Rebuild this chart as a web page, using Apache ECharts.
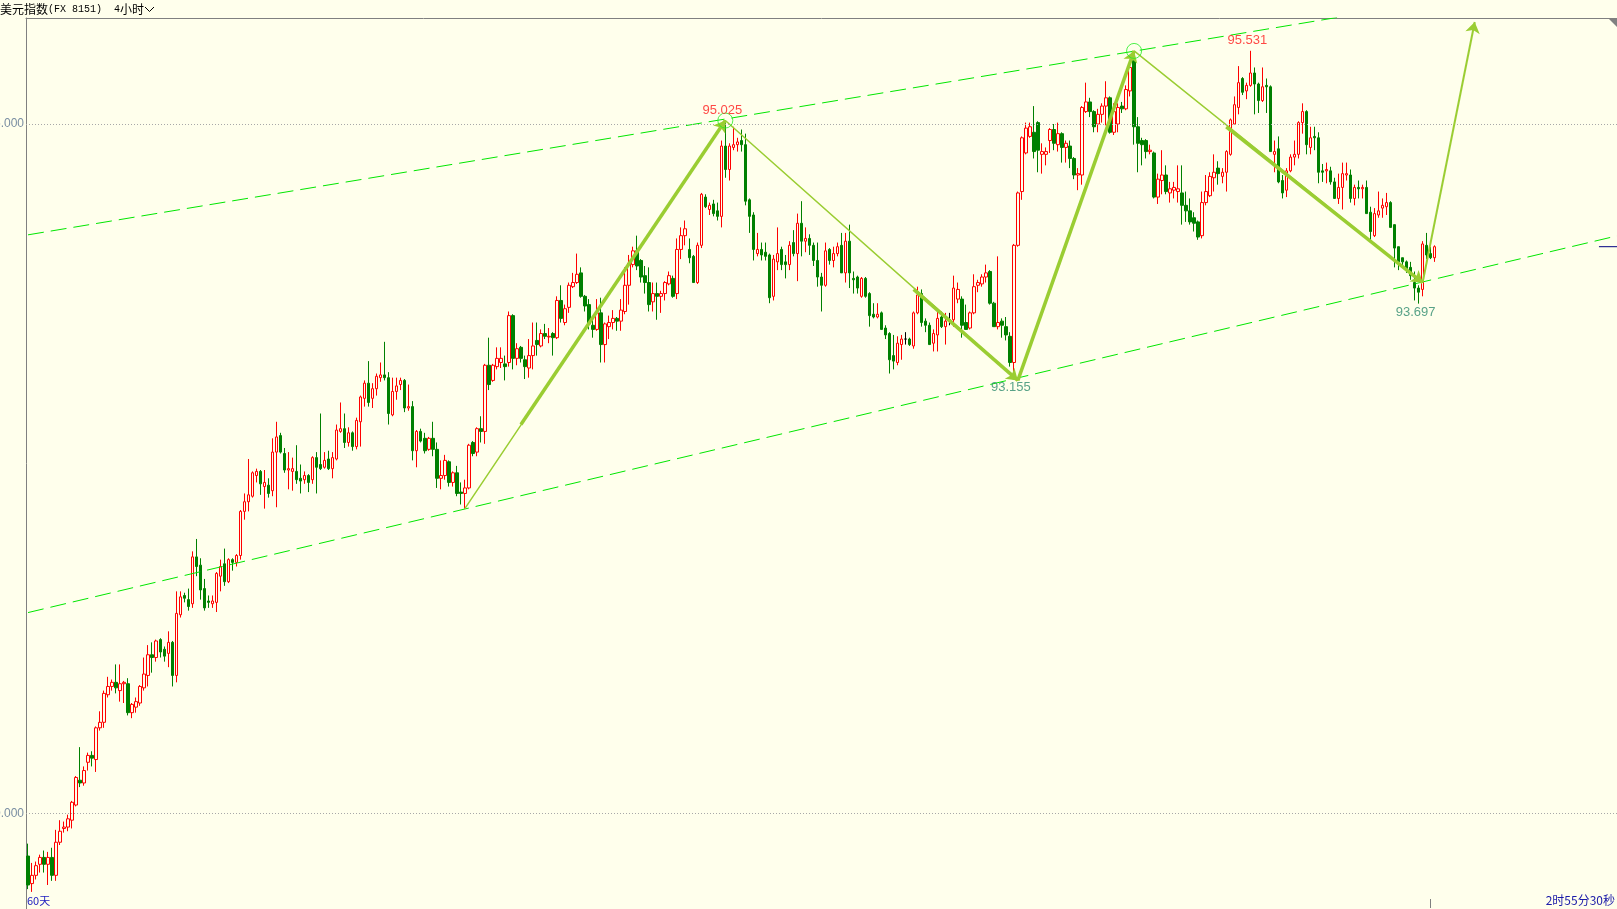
<!DOCTYPE html>
<html><head><meta charset="utf-8">
<script src="https://cdn.jsdelivr.net/npm/echarts@6/dist/echarts.min.js"></script>
<style>html,body{margin:0;padding:0;background:#ffffec;}#c{width:1617px;height:909px;}</style>
</head><body><div id="c"></div>
<script>
// ---- candle values (4-hour USD index) ----
const openV = [
89.69,89.49,89.55,89.63,89.68,89.63,89.68,89.55,89.79,89.89,
89.90,89.95,90.06,90.24,90.22,90.37,90.42,90.39,90.62,90.66,
90.86,90.92,90.95,90.89,90.94,90.94,90.73,90.77,90.80,90.91,
91.00,91.15,91.13,91.26,91.19,91.16,91.24,91.00,91.44,91.58,
91.55,91.52,91.86,91.80,91.63,91.54,91.52,91.53,91.72,91.81,
91.68,91.84,91.82,91.87,92.19,92.26,92.30,92.45,92.48,92.37,
92.38,92.34,92.62,92.74,92.61,92.49,92.48,92.48,92.43,92.42,
92.45,92.42,92.58,92.53,92.51,92.57,92.50,92.57,92.77,92.79,
92.69,92.76,92.66,92.84,93.01,93.12,93.01,93.08,93.16,93.18,
93.16,92.89,93.06,93.11,93.14,92.94,92.95,92.63,92.77,92.72,
92.64,92.72,92.64,92.43,92.45,92.55,92.40,92.47,92.33,92.32,
92.36,92.69,92.62,92.79,92.77,93.25,93.14,93.24,93.27,93.26,
93.27,93.61,93.30,93.38,93.29,93.23,93.32,93.43,93.39,93.48,
93.455,93.48,93.45,93.72,93.56,93.67,93.82,93.85,93.92,93.75,
93.69,93.54,93.51,93.63,93.40,93.53,93.56,93.59,93.57,93.64,
93.83,93.98,94.08,94.01,93.90,93.85,93.71,93.77,93.75,93.77,
93.84,93.88,93.77,94.09,94.19,94.09,94.04,93.85,94.12,94.47,
94.38,94.42,94.37,94.33,94.84,94.67,94.83,94.85,94.88,94.85,
94.45,94.34,94.06,94.09,94.07,94.05,93.75,94.00,94.09,94.00,
93.98,94.14,94.06,94.28,94.15,94.17,94.12,94.01,93.89,93.83,
94.09,94.01,94.06,94.12,93.92,94.15,93.88,93.89,93.75,93.88,
93.77,93.62,93.60,93.63,93.52,93.48,93.32,93.27,93.40,93.44,
93.44,93.39,93.63,93.77,93.57,93.54,93.41,93.47,93.60,93.53,
93.58,93.58,93.73,93.73,93.56,93.52,93.63,93.83,93.84,93.89,
93.93,93.70,93.53,93.57,93.53,93.46,93.27,94.12,94.51,94.79,
94.91,94.94,95.01,94.78,94.78,94.88,94.96,94.85,94.93,94.83,
94.84,94.75,94.63,94.63,95.09,95.16,95.09,95.00,95.07,95.13,
95.19,94.94,95.00,95.13,95.11,95.24,95.46,94.98,94.88,94.88,
94.80,94.79,94.47,94.59,94.63,94.50,94.52,94.51,94.50,94.41,
94.37,94.32,94.29,94.19,94.43,94.48,94.61,94.68,94.62,94.65,
94.78,95.00,95.12,95.33,95.24,95.28,95.37,95.29,95.17,95.28,
95.27,94.78,94.82,94.59,94.52,94.66,94.76,94.78,95.01,95.09,
94.83,94.91,94.90,94.66,94.66,94.66,94.58,94.46,94.54,94.63,
94.63,94.46,94.54,94.53,94.54,94.36,94.19,94.34,94.39,94.40,
94.43,94.27,94.11,94.03,94.00,93.96,93.85,93.81,93.80,94.12,
94.06,94.03];
const closeV = [
89.48,89.55,89.62,89.68,89.63,89.68,89.55,89.79,89.87,89.90,
89.96,90.08,90.26,90.22,90.31,90.42,90.40,90.62,90.66,90.87,
90.92,90.95,90.91,90.94,90.95,90.73,90.79,90.81,90.92,91.01,
91.15,91.13,91.25,91.17,91.14,91.24,91.00,91.45,91.57,91.56,
91.50,91.86,91.79,91.62,91.49,91.53,91.54,91.74,91.79,91.68,
91.84,91.82,91.87,92.19,92.26,92.31,92.47,92.48,92.39,92.40,
92.32,92.62,92.73,92.62,92.49,92.50,92.50,92.42,92.41,92.45,
92.40,92.58,92.51,92.50,92.56,92.50,92.58,92.78,92.79,92.69,
92.76,92.66,92.85,93.02,93.12,92.98,93.08,93.17,93.18,93.16,
92.90,93.06,93.10,93.14,92.94,92.95,92.63,92.77,92.70,92.63,
92.72,92.64,92.43,92.45,92.56,92.40,92.47,92.32,92.32,92.36,
92.67,92.61,92.79,92.77,93.25,93.11,93.25,93.30,93.30,93.24,
93.61,93.30,93.37,93.30,93.24,93.32,93.39,93.40,93.48,93.46,
93.46,93.45,93.72,93.59,93.66,93.83,93.85,93.91,93.75,93.68,
93.55,93.51,93.63,93.40,93.55,93.56,93.59,93.57,93.65,93.83,
93.99,94.08,93.97,93.89,93.85,93.69,93.77,93.75,93.77,93.85,
93.90,93.75,94.09,94.19,94.24,94.03,93.85,94.12,94.49,94.40,
94.41,94.35,94.33,94.84,94.67,94.84,94.85,94.87,94.85,94.44,
94.33,94.09,94.09,94.05,94.04,93.74,94.02,94.06,93.98,93.98,
94.12,94.06,94.28,94.15,94.17,94.12,94.01,93.89,93.83,94.08,
94.01,94.06,94.11,93.92,94.15,93.92,93.87,93.81,93.88,93.75,
93.61,93.60,93.62,93.51,93.47,93.29,93.28,93.41,93.44,93.44,
93.40,93.63,93.76,93.56,93.54,93.40,93.48,93.59,93.53,93.57,
93.58,93.81,93.80,93.54,93.51,93.63,93.82,93.85,93.89,93.92,
93.70,93.53,93.56,93.54,93.47,93.27,94.12,94.50,94.90,94.97,
94.98,94.80,94.81,94.80,94.80,94.96,94.86,94.93,94.83,94.86,
94.75,94.63,94.64,95.12,95.16,95.09,94.98,95.07,95.13,95.19,
94.94,95.09,95.12,95.11,95.25,95.41,94.98,94.86,94.85,94.80,
94.81,94.47,94.60,94.63,94.51,94.53,94.54,94.53,94.41,94.37,
94.29,94.28,94.18,94.43,94.51,94.62,94.65,94.64,94.65,94.80,
95.03,95.14,95.30,95.23,95.28,95.37,95.29,95.17,95.27,95.27,
94.80,94.80,94.58,94.50,94.66,94.76,94.78,95.01,95.09,94.85,
94.90,94.90,94.65,94.65,94.67,94.58,94.46,94.54,94.64,94.64,
94.46,94.54,94.53,94.54,94.35,94.22,94.35,94.37,94.41,94.43,
94.25,94.10,94.00,94.00,93.95,93.90,93.81,93.78,94.13,94.05,
94.03,94.11];
const lowV = [
89.45,89.43,89.52,89.57,89.57,89.48,89.51,89.51,89.77,89.86,
89.87,89.89,90.05,90.19,90.20,90.31,90.34,90.30,90.60,90.62,
90.84,90.89,90.87,90.81,90.80,90.71,90.69,90.73,90.78,90.89,
90.92,91.02,91.10,91.13,91.10,91.06,90.92,90.95,91.42,91.53,
91.47,91.49,91.72,91.55,91.47,91.49,91.49,91.46,91.61,91.65,
91.67,91.76,91.79,91.84,92.13,92.19,92.29,92.40,92.31,92.21,
92.29,92.30,92.22,92.61,92.47,92.35,92.34,92.39,92.32,92.39,
92.33,92.39,92.32,92.49,92.50,92.49,92.43,92.56,92.76,92.65,
92.66,92.63,92.64,92.66,92.95,92.95,92.94,93.03,93.13,93.14,
92.82,92.88,93.00,93.07,92.91,92.92,92.56,92.51,92.69,92.61,
92.63,92.59,92.36,92.35,92.42,92.37,92.37,92.30,92.24,92.21,
92.35,92.59,92.59,92.69,92.68,93.07,93.13,93.22,93.23,93.14,
93.24,93.22,93.25,93.27,93.15,93.16,93.22,93.32,93.38,93.44,
93.41,93.32,93.44,93.56,93.54,93.63,93.81,93.84,93.74,93.64,
93.51,93.45,93.50,93.27,93.27,93.44,93.51,93.50,93.50,93.62,
93.69,93.96,93.94,93.85,93.77,93.64,93.64,93.58,93.63,93.72,
93.83,93.74,93.73,94.02,94.12,93.99,93.85,93.84,94.10,94.39,
94.34,94.33,94.30,94.25,94.61,94.59,94.81,94.80,94.80,94.41,
94.21,94.01,94.04,94.01,94.01,93.70,93.72,93.94,93.94,93.88,
93.94,94.04,93.86,94.04,94.07,94.05,93.97,93.82,93.64,93.82,
93.98,93.96,94.04,93.92,93.85,93.81,93.77,93.77,93.74,93.74,
93.53,93.59,93.59,93.51,93.44,93.19,93.22,93.25,93.29,93.40,
93.39,93.37,93.62,93.53,93.49,93.40,93.35,93.35,93.52,93.40,
93.54,93.53,93.70,93.45,93.51,93.51,93.62,93.78,93.82,93.85,
93.69,93.53,93.51,93.45,93.43,93.24,93.155,94.11,94.45,94.78,
94.90,94.75,94.65,94.64,94.70,94.79,94.81,94.80,94.72,94.72,
94.68,94.60,94.52,94.56,95.08,95.05,94.94,94.94,95.01,94.99,
94.93,94.92,94.94,95.08,95.10,95.20,94.85,94.65,94.70,94.75,
94.78,94.46,94.42,94.49,94.49,94.43,94.46,94.43,94.27,94.29,
94.27,94.22,94.16,94.17,94.41,94.47,94.51,94.56,94.57,94.51,
94.77,95.00,95.07,95.21,95.18,95.27,95.07,95.08,95.16,95.08,
94.80,94.65,94.57,94.46,94.47,94.65,94.70,94.75,94.93,94.78,
94.78,94.81,94.57,94.58,94.57,94.56,94.46,94.42,94.38,94.59,
94.43,94.41,94.46,94.46,94.35,94.16,94.18,94.32,94.32,94.34,
94.25,93.96,93.94,93.96,93.92,93.87,93.72,93.697,93.75,94.02,
94.02,94.00];
const highV = [
89.78,89.64,89.65,89.70,89.73,89.72,89.75,89.88,89.95,89.94,
89.99,90.09,90.27,90.48,90.34,90.44,90.45,90.63,90.74,90.89,
90.99,90.97,91.08,91.08,90.96,90.98,90.80,90.84,90.93,91.13,
91.22,91.24,91.26,91.27,91.21,91.32,91.25,91.61,91.61,91.60,
91.63,91.90,91.99,91.85,91.70,91.58,91.58,91.75,91.84,91.92,
91.85,91.85,91.88,92.20,92.32,92.57,92.48,92.50,92.49,92.49,
92.43,92.72,92.84,92.76,92.65,92.62,92.58,92.67,92.53,92.48,
92.46,92.59,92.62,92.90,92.62,92.63,92.62,92.82,92.98,92.90,
92.80,92.77,92.87,93.03,93.14,93.28,93.12,93.19,93.27,93.42,
93.20,93.16,93.16,93.16,93.15,93.11,92.99,92.78,92.79,92.76,
92.73,92.84,92.69,92.56,92.60,92.56,92.48,92.52,92.40,92.42,
92.68,92.70,92.80,92.88,93.26,93.45,93.26,93.38,93.38,93.32,
93.64,93.62,93.41,93.39,93.32,93.44,93.56,93.56,93.51,93.55,
93.52,93.49,93.75,93.83,93.69,93.85,93.92,94.06,93.96,93.76,
93.73,93.60,93.73,93.74,93.56,93.61,93.65,93.60,93.73,93.96,
94.05,94.11,94.19,94.02,93.97,93.96,93.85,93.85,93.79,93.86,
93.93,93.90,94.17,94.25,94.30,94.17,94.05,94.14,94.50,94.49,
94.43,94.45,94.43,94.88,95.025,94.86,94.98,94.90,94.96,94.93,
94.46,94.36,94.21,94.14,94.14,94.06,94.05,94.25,94.11,94.05,
94.15,94.23,94.35,94.44,94.25,94.20,94.14,94.14,93.92,94.14,
94.10,94.11,94.14,94.21,94.21,94.27,93.93,93.90,93.89,93.89,
93.78,93.70,93.70,93.64,93.54,93.49,93.47,93.46,93.47,93.49,
93.45,93.64,93.82,93.80,93.59,93.56,93.51,93.64,93.64,93.63,
93.63,93.90,93.85,93.75,93.69,93.64,93.91,93.87,93.91,93.98,
93.94,93.71,94.04,93.59,93.60,93.49,94.13,94.51,94.91,95.01,
95.01,95.13,95.02,94.86,94.83,94.97,95.00,95.01,94.94,94.88,
94.88,94.76,94.68,95.13,95.30,95.19,95.10,95.11,95.15,95.31,
95.20,95.15,95.15,95.16,95.28,95.46,95.52,95.05,94.90,94.89,
94.85,94.80,94.64,94.81,94.70,94.58,94.58,94.70,94.70,94.51,
94.46,94.36,94.30,94.51,94.63,94.65,94.78,94.73,94.68,94.81,
95.04,95.20,95.42,95.34,95.30,95.531,95.41,95.30,95.41,95.33,
95.28,94.88,94.91,94.63,94.68,94.78,94.88,95.02,95.15,95.10,
94.98,94.98,94.94,94.71,94.72,94.69,94.61,94.64,94.72,94.72,
94.67,94.56,94.59,94.56,94.59,94.40,94.39,94.51,94.46,94.50,
94.44,94.27,94.11,94.03,94.01,94.00,93.93,93.83,94.15,94.21,
94.11,94.12];

// axis / annotation values
const slotCount = 397;                       // candle slots incl. empty space on the right
const gridTickValues = [90, 95];
const upperChannel = [[-0.5, 94.196], [330, 95.789]];
const lowerChannel = [[-0.5, 91.456], [396.5, 94.192]];
const swingPath = [[109, 92.21], [174, 95.025], [247, 93.14], [275.5, 95.53], [348, 93.85]];
const thickArrows = [
  [[123, 92.82], [174, 95.025]],
  [[221.3, 93.80], [247, 93.14]],
  [[247, 93.14], [275.5, 95.53]],
  [[299.2, 94.98], [348, 93.85]]
];
const projectionArrow = [[348, 93.85], [361, 95.74]];
const peakCircles = [[174, 95.025], [275.5, 95.53]];
const highLabels = [[174, 95.025], [305, 95.531]];
const lowLabels = [[246, 93.155], [347, 93.697]];

const BG = '#ffffec';
const categories = Array.from({length: slotCount}, (_, i) => String(i));
const candles = openV.map((o, i) => [o, closeV[i], lowV[i], highV[i]]);
const lastClose = closeV[closeV.length - 1];
const ARROW = '#9acd32';
const CJK = '"Noto Sans CJK SC"';

const chart = echarts.init(document.getElementById('c'), null, {renderer: 'canvas'});
chart.setOption({
  animation: false,
  backgroundColor: BG,
  grid: {left: 26, right: 0, top: 18, bottom: 0, containLabel: false, outerBoundsMode: 'none'},
  xAxis: {
    type: 'category', data: categories, position: 'top', boundaryGap: true,
    axisLine: {show: true, lineStyle: {color: '#808080', width: 1}},
    axisTick: {show: false}, axisLabel: {show: false}, splitLine: {show: false}
  },
  yAxis: {
    type: 'value', min: 89.3058, max: 95.7689, scale: true,
    axisLine: {show: true, lineStyle: {color: '#808080', width: 1}},
    axisTick: {show: false}, splitLine: {show: false},
    axisLabel: {
      customValues: gridTickValues, margin: 2, color: '#7a8ea2',
      fontFamily: 'Liberation Sans', fontSize: 12,
      formatter: v => v.toFixed(3)
    }
  },
  graphic: [
    {type: 'text', x: 0, y: 3, style: {text: '美元指数', font: '12px ' + CJK, fill: '#000'}},
    {type: 'text', x: 48, y: 4, style: {text: '(FX 8151)', font: '10px "Liberation Mono"', fill: '#000'}},
    {type: 'text', x: 114, y: 4, style: {text: '4', font: '10px "Liberation Mono"', fill: '#000'}},
    {type: 'text', x: 120, y: 3, style: {text: '小时', font: '12px ' + CJK, fill: '#000'}},
    {type: 'polyline', shape: {points: [[145, 7], [149.5, 11.5], [154, 7]]}, style: {stroke: '#000', lineWidth: 1, fill: null}},
    {type: 'text', x: 27, y: 895, style: {text: '60天', font: '11px ' + CJK, fill: '#2020c0'}},
    {type: 'text', right: 2, top: 894, style: {text: '2时55分30秒', font: '12px ' + CJK, fill: '#1a1aa8'}},
    {type: 'polygon', shape: {points: [[1608, 18], [1617, 18], [1617, 27]]}, style: {fill: '#808080'}},
    {type: 'line', shape: {x1: 1430.5, y1: 899, x2: 1430.5, y2: 908}, style: {stroke: '#808080', lineWidth: 1}}
  ],
  series: [
    {
      type: 'candlestick', name: 'USDX', data: candles, barWidth: 3,
      itemStyle: {color: BG, color0: '#008000', borderColor: '#ff0000', borderColor0: '#008000', borderColorDoji: '#000000', borderWidth: 1},
      markLine: {
        silent: true, symbol: 'none', label: {show: false},
        lineStyle: {type: [1, 2], color: '#a8a8a8', width: 1},
        data: gridTickValues.map(v => ({yAxis: v}))
      },
      z: 2
    },
    {type: 'line', data: upperChannel, symbol: 'none', clip: true, silent: true,
     lineStyle: {color: '#00e600', width: 1, type: [16, 7]}, z: 3},
    {type: 'line', data: lowerChannel, symbol: 'none', clip: true, silent: true,
     lineStyle: {color: '#00e600', width: 1, type: [16, 7]}, z: 3},
    {type: 'line', data: [[392, lastClose], [396.5, lastClose]], symbol: 'none', silent: true,
     lineStyle: {color: '#000080', width: 1}, z: 3},
    {type: 'line', data: swingPath, symbol: 'none', silent: true,
     lineStyle: {color: ARROW, width: 1.5}, z: 4,
     markLine: {
       silent: true, label: {show: false}, symbol: ['none', 'arrow'], symbolSize: 11,
       lineStyle: {color: ARROW, width: 3.5, type: 'solid'},
       data: thickArrows.map(s => [{coord: s[0]}, {coord: s[1]}]).concat([
         [{coord: projectionArrow[0]}, {coord: projectionArrow[1], lineStyle: {width: 2}}]
       ])
     }},
    {type: 'scatter', data: peakCircles, symbol: 'circle', symbolSize: 15, silent: true,
     itemStyle: {color: 'rgba(0,0,0,0)', borderColor: '#22ee22', borderWidth: 1}, z: 5},
    {type: 'scatter', data: highLabels, symbolSize: 1, silent: true, itemStyle: {color: 'rgba(0,0,0,0)'},
     label: {show: true, position: 'top', distance: 3, offset: [-3, 0], color: '#ff1a1a',
             fontFamily: 'Liberation Sans', fontSize: 13, formatter: p => p.value[1].toFixed(3)}, z: 6},
    {type: 'scatter', data: lowLabels, symbolSize: 1, silent: true, itemStyle: {color: 'rgba(0,0,0,0)'},
     label: {show: true, position: 'bottom', distance: 2, offset: [-3, 0], color: '#2e8b6e',
             fontFamily: 'Liberation Sans', fontSize: 13, formatter: p => p.value[1].toFixed(3)}, z: 6}
  ]
});
</script></body></html>
